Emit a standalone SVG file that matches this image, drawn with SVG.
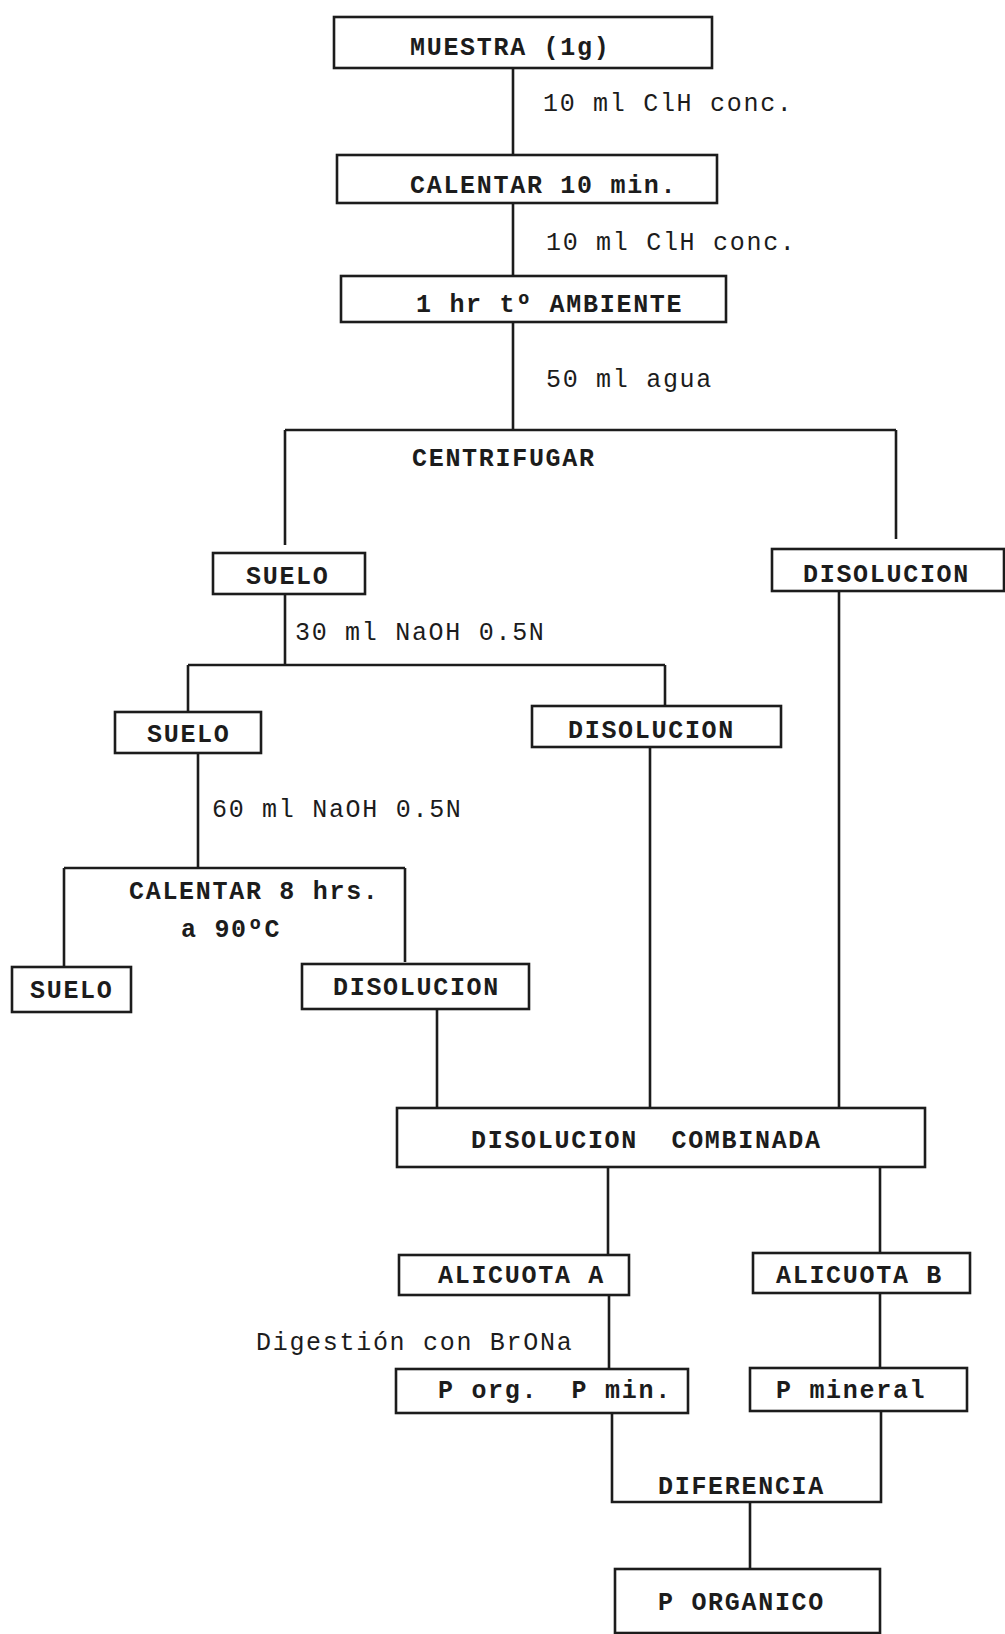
<svg xmlns="http://www.w3.org/2000/svg" width="1005" height="1634" viewBox="0 0 1005 1634">
<style>
.bx{fill:#fff;stroke:#1c1c1c;stroke-width:2.6}
.ln{fill:none;stroke:#1c1c1c;stroke-width:2.6}
.t{font-family:"Liberation Mono","DejaVu Sans Mono",monospace;font-size:25px;fill:#1c1c1c;letter-spacing:1.7px;white-space:pre}
.b{font-weight:bold}
</style>
<rect width="1005" height="1634" fill="#fff"/>
<g id="connectors">
<path class="ln" d="M513,68V155"/>
<path class="ln" d="M513,203V276"/>
<path class="ln" d="M513,322V430"/>
<path class="ln" d="M285,430H896"/>
<path class="ln" d="M285,430V545"/>
<path class="ln" d="M896,430V539"/>
<path class="ln" d="M285,594V665"/>
<path class="ln" d="M188,665H665"/>
<path class="ln" d="M188,665V712"/>
<path class="ln" d="M665,665V706"/>
<path class="ln" d="M839,591V1108"/>
<path class="ln" d="M650,747V1108"/>
<path class="ln" d="M198,753V868"/>
<path class="ln" d="M64,868H405"/>
<path class="ln" d="M64,868V967"/>
<path class="ln" d="M405,868V962"/>
<path class="ln" d="M437,1009V1108"/>
<path class="ln" d="M608,1167V1255"/>
<path class="ln" d="M880,1167V1253"/>
<path class="ln" d="M609,1295V1369"/>
<path class="ln" d="M880,1293V1368"/>
<path class="ln" d="M612,1413V1502H881V1411"/>
<path class="ln" d="M750,1502V1569"/>
</g>
<g id="labels">
<text class="t" x="543" y="111">10 ml ClH conc.</text>
<text class="t" x="546" y="250">10 ml ClH conc.</text>
<text class="t" x="546" y="387">50 ml agua</text>
<text class="t b" x="412" y="466">CENTRIFUGAR</text>
<text class="t" x="295" y="640">30 ml NaOH 0.5N</text>
<text class="t" x="212" y="817">60 ml NaOH 0.5N</text>
<text class="t b" x="129" y="899">CALENTAR 8 hrs.</text>
<text class="t b" x="181" y="937">a 90ºC</text>
<text class="t" x="256" y="1350">Digestión con BrONa</text>
<text class="t b" x="658" y="1494">DIFERENCIA</text>
</g>
<g id="n-muestra"><rect class="bx" x="334" y="17" width="378" height="51"/><text class="t b" x="410" y="55">MUESTRA (1g)</text></g>
<g id="n-calentar10"><rect class="bx" x="337" y="155" width="380" height="48"/><text class="t b" x="410" y="193">CALENTAR 10 min.</text></g>
<g id="n-ambiente"><rect class="bx" x="341" y="276" width="385" height="46"/><text class="t b" x="416" y="312">1 hr tº AMBIENTE</text></g>
<g id="n-suelo1"><rect class="bx" x="213" y="553" width="152" height="41"/><text class="t b" x="246" y="584">SUELO</text></g>
<g id="n-disol1"><rect class="bx" x="772" y="549" width="232" height="42"/><text class="t b" x="803" y="582">DISOLUCION</text></g>
<g id="n-suelo2"><rect class="bx" x="115" y="712" width="146" height="41"/><text class="t b" x="147" y="742">SUELO</text></g>
<g id="n-disol2"><rect class="bx" x="532" y="706" width="249" height="41"/><text class="t b" x="568" y="738">DISOLUCION</text></g>
<g id="n-suelo3"><rect class="bx" x="12" y="967" width="119" height="45"/><text class="t b" x="30" y="998">SUELO</text></g>
<g id="n-disol3"><rect class="bx" x="302" y="964" width="227" height="45"/><text class="t b" x="333" y="995">DISOLUCION</text></g>
<g id="n-combinada"><rect class="bx" x="397" y="1108" width="528" height="59"/><text class="t b" x="471" y="1148" xml:space="preserve">DISOLUCION  COMBINADA</text></g>
<g id="n-alicA"><rect class="bx" x="399" y="1255" width="230" height="40"/><text class="t b" x="438" y="1283">ALICUOTA A</text></g>
<g id="n-alicB"><rect class="bx" x="753" y="1253" width="217" height="40"/><text class="t b" x="776" y="1283">ALICUOTA B</text></g>
<g id="n-porg"><rect class="bx" x="396" y="1369" width="292" height="44"/><text class="t b" x="438" y="1398" xml:space="preserve">P org.  P min.</text></g>
<g id="n-pmin"><rect class="bx" x="750" y="1368" width="217" height="43"/><text class="t b" x="776" y="1398">P mineral</text></g>
<g id="n-porganico"><rect class="bx" x="615" y="1569" width="265" height="64"/><text class="t b" x="658" y="1610">P ORGANICO</text></g>
</svg>
